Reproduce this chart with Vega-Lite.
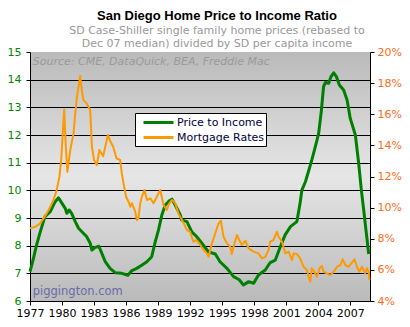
{
  "$schema": "https://vega.github.io/schema/vega-lite/v6.json",
  "width": 340,
  "height": 249,
  "autosize": {"type": "none"},
  "padding": {"left": 30, "top": 52, "right": 40, "bottom": 26},
  "background": "white",
  "config": {"axis": {"labelOverlap": false, "labelBound": false}},
  "view": {
    "stroke": null,
    "fill": {
      "gradient": "linear", "x1": 0, "y1": 0, "x2": 0, "y2": 1,
      "stops": [
        {"offset": 0, "color": "#bababa"},
        {"offset": 0.5, "color": "#e6e6e6"},
        {"offset": 1, "color": "#bababa"}
      ]
    }
  },
  "title": {
    "text": "San Diego Home Price to Income Ratio",
    "subtitle": ["SD Case-Shiller single family home prices (rebased to", "Dec 07 median) divided by SD per capita income"],
    "anchor": "middle",
    "frame": "group",
    "dx": 17,
    "font": "Liberation Sans",
    "fontSize": 13,
    "fontWeight": "bold",
    "color": "black",
    "subtitleFont": "DejaVu Sans",
    "subtitleFontSize": 11,
    "subtitleColor": "#999999",
    "subtitleLineHeight": 13.5,
    "subtitlePadding": 2,
    "offset": -3
  },
  "datasets": {
    "pti": [
      {"year": 1977.0, "ratio": 7.06}, {"year": 1977.3, "ratio": 7.5}, {"year": 1977.6, "ratio": 8.0},
      {"year": 1977.96, "ratio": 8.5}, {"year": 1978.4, "ratio": 9.05}, {"year": 1978.9, "ratio": 9.23},
      {"year": 1979.36, "ratio": 9.59}, {"year": 1979.67, "ratio": 9.73}, {"year": 1980.0, "ratio": 9.53},
      {"year": 1980.3, "ratio": 9.35}, {"year": 1980.45, "ratio": 9.17}, {"year": 1980.67, "ratio": 9.29},
      {"year": 1980.9, "ratio": 9.17}, {"year": 1981.24, "ratio": 8.87}, {"year": 1981.55, "ratio": 8.63},
      {"year": 1982.0, "ratio": 8.45}, {"year": 1982.3, "ratio": 8.33}, {"year": 1982.64, "ratio": 8.09},
      {"year": 1982.8, "ratio": 7.84}, {"year": 1983.1, "ratio": 7.94}, {"year": 1983.45, "ratio": 7.98},
      {"year": 1983.73, "ratio": 7.72}, {"year": 1984.05, "ratio": 7.42}, {"year": 1984.5, "ratio": 7.18},
      {"year": 1985.0, "ratio": 7.02}, {"year": 1985.6, "ratio": 7.0}, {"year": 1986.17, "ratio": 6.93},
      {"year": 1986.55, "ratio": 7.1}, {"year": 1987.0, "ratio": 7.18}, {"year": 1987.5, "ratio": 7.3},
      {"year": 1987.95, "ratio": 7.42}, {"year": 1988.4, "ratio": 7.6}, {"year": 1988.73, "ratio": 8.14},
      {"year": 1989.04, "ratio": 8.57}, {"year": 1989.35, "ratio": 9.11}, {"year": 1989.67, "ratio": 9.47},
      {"year": 1990.05, "ratio": 9.62}, {"year": 1990.3, "ratio": 9.68}, {"year": 1990.6, "ratio": 9.47},
      {"year": 1991.08, "ratio": 9.11}, {"year": 1991.2, "ratio": 8.93}, {"year": 1991.7, "ratio": 8.87},
      {"year": 1992.16, "ratio": 8.5}, {"year": 1992.6, "ratio": 8.33}, {"year": 1993.1, "ratio": 8.09},
      {"year": 1993.7, "ratio": 7.78}, {"year": 1994.36, "ratio": 7.7}, {"year": 1994.8, "ratio": 7.42},
      {"year": 1995.45, "ratio": 7.18}, {"year": 1996.07, "ratio": 6.88}, {"year": 1996.6, "ratio": 6.77},
      {"year": 1997.0, "ratio": 6.58}, {"year": 1997.48, "ratio": 6.7}, {"year": 1997.95, "ratio": 6.64},
      {"year": 1998.4, "ratio": 6.94}, {"year": 1999.04, "ratio": 7.12}, {"year": 1999.5, "ratio": 7.39},
      {"year": 1999.98, "ratio": 7.48}, {"year": 2000.45, "ratio": 7.96}, {"year": 2000.9, "ratio": 8.39},
      {"year": 2001.4, "ratio": 8.69}, {"year": 2002.0, "ratio": 8.87}, {"year": 2002.3, "ratio": 9.53},
      {"year": 2002.47, "ratio": 10.01}, {"year": 2002.8, "ratio": 10.31}, {"year": 2003.1, "ratio": 10.7},
      {"year": 2003.4, "ratio": 11.1}, {"year": 2003.73, "ratio": 11.58}, {"year": 2004.04, "ratio": 12.06},
      {"year": 2004.3, "ratio": 12.9}, {"year": 2004.5, "ratio": 13.75}, {"year": 2004.67, "ratio": 13.9},
      {"year": 2004.98, "ratio": 13.87}, {"year": 2005.2, "ratio": 14.11}, {"year": 2005.45, "ratio": 14.25},
      {"year": 2005.7, "ratio": 14.11}, {"year": 2005.98, "ratio": 13.81}, {"year": 2006.38, "ratio": 13.63},
      {"year": 2006.7, "ratio": 13.27}, {"year": 2007.0, "ratio": 12.6}, {"year": 2007.48, "ratio": 12.0},
      {"year": 2007.79, "ratio": 10.98}, {"year": 2008.04, "ratio": 10.01}, {"year": 2008.26, "ratio": 9.29},
      {"year": 2008.47, "ratio": 8.57}, {"year": 2008.73, "ratio": 7.7}
    ],
    "rates": [
      {"year": 1977.0, "rate": 8.67}, {"year": 1977.5, "rate": 8.77}, {"year": 1977.96, "rate": 8.99},
      {"year": 1978.27, "rate": 9.31}, {"year": 1978.57, "rate": 9.63}, {"year": 1978.9, "rate": 10.06},
      {"year": 1979.2, "rate": 10.49}, {"year": 1979.5, "rate": 11.13}, {"year": 1979.76, "rate": 11.99},
      {"year": 1979.92, "rate": 13.06}, {"year": 1980.05, "rate": 14.56}, {"year": 1980.2, "rate": 16.3},
      {"year": 1980.35, "rate": 14.0}, {"year": 1980.5, "rate": 12.3}, {"year": 1980.77, "rate": 13.7},
      {"year": 1981.08, "rate": 14.77}, {"year": 1981.24, "rate": 16.06}, {"year": 1981.4, "rate": 17.13},
      {"year": 1981.55, "rate": 17.77}, {"year": 1981.7, "rate": 18.46}, {"year": 1981.85, "rate": 17.56},
      {"year": 1982.0, "rate": 16.92}, {"year": 1982.3, "rate": 16.7}, {"year": 1982.64, "rate": 16.27},
      {"year": 1982.8, "rate": 13.91}, {"year": 1983.0, "rate": 13.06}, {"year": 1983.26, "rate": 12.74},
      {"year": 1983.5, "rate": 13.7}, {"year": 1983.85, "rate": 13.3}, {"year": 1984.3, "rate": 14.67},
      {"year": 1984.5, "rate": 14.3}, {"year": 1984.8, "rate": 13.9}, {"year": 1985.1, "rate": 13.17},
      {"year": 1985.45, "rate": 13.06}, {"year": 1985.6, "rate": 12.2}, {"year": 1985.76, "rate": 11.56},
      {"year": 1986.0, "rate": 10.7}, {"year": 1986.23, "rate": 10.38}, {"year": 1986.4, "rate": 10.06},
      {"year": 1986.55, "rate": 10.28}, {"year": 1986.86, "rate": 9.74}, {"year": 1987.0, "rate": 9.2},
      {"year": 1987.15, "rate": 9.31}, {"year": 1987.33, "rate": 10.28}, {"year": 1987.48, "rate": 10.7},
      {"year": 1987.73, "rate": 11.13}, {"year": 1987.95, "rate": 10.49}, {"year": 1988.27, "rate": 10.6},
      {"year": 1988.57, "rate": 10.28}, {"year": 1988.88, "rate": 10.7}, {"year": 1989.2, "rate": 11.13},
      {"year": 1989.51, "rate": 10.17}, {"year": 1989.82, "rate": 9.85}, {"year": 1990.05, "rate": 10.28},
      {"year": 1990.3, "rate": 10.49}, {"year": 1990.6, "rate": 10.28}, {"year": 1990.9, "rate": 9.63},
      {"year": 1991.4, "rate": 8.99}, {"year": 1991.7, "rate": 8.56}, {"year": 1992.0, "rate": 8.45},
      {"year": 1992.3, "rate": 7.81}, {"year": 1992.6, "rate": 7.92}, {"year": 1992.95, "rate": 7.6},
      {"year": 1993.26, "rate": 7.28}, {"year": 1993.57, "rate": 7.06}, {"year": 1993.73, "rate": 6.84},
      {"year": 1994.04, "rate": 7.7}, {"year": 1994.36, "rate": 8.35}, {"year": 1994.67, "rate": 8.99},
      {"year": 1994.88, "rate": 9.16}, {"year": 1995.13, "rate": 8.13}, {"year": 1995.45, "rate": 7.7},
      {"year": 1995.76, "rate": 7.49}, {"year": 1995.9, "rate": 7.02}, {"year": 1996.07, "rate": 7.49},
      {"year": 1996.38, "rate": 8.24}, {"year": 1996.6, "rate": 7.92}, {"year": 1996.85, "rate": 7.6},
      {"year": 1997.17, "rate": 7.87}, {"year": 1997.48, "rate": 7.38}, {"year": 1997.95, "rate": 7.17},
      {"year": 1998.4, "rate": 7.06}, {"year": 1998.73, "rate": 6.74}, {"year": 1999.04, "rate": 6.84},
      {"year": 1999.35, "rate": 7.28}, {"year": 1999.5, "rate": 7.81}, {"year": 1999.82, "rate": 7.92},
      {"year": 2000.13, "rate": 8.45}, {"year": 2000.29, "rate": 8.13}, {"year": 2000.6, "rate": 7.81},
      {"year": 2000.92, "rate": 7.06}, {"year": 2001.23, "rate": 7.17}, {"year": 2001.54, "rate": 6.63},
      {"year": 2001.7, "rate": 7.06}, {"year": 2002.0, "rate": 7.02}, {"year": 2002.3, "rate": 6.74},
      {"year": 2002.63, "rate": 6.2}, {"year": 2002.94, "rate": 5.99}, {"year": 2003.1, "rate": 5.56},
      {"year": 2003.26, "rate": 5.24}, {"year": 2003.4, "rate": 6.1}, {"year": 2003.64, "rate": 5.88},
      {"year": 2003.88, "rate": 5.56}, {"year": 2004.13, "rate": 6.1}, {"year": 2004.35, "rate": 6.25},
      {"year": 2004.5, "rate": 5.88}, {"year": 2004.8, "rate": 5.78}, {"year": 2005.13, "rate": 5.67},
      {"year": 2005.45, "rate": 5.88}, {"year": 2005.76, "rate": 6.2}, {"year": 2006.07, "rate": 6.31},
      {"year": 2006.29, "rate": 6.68}, {"year": 2006.54, "rate": 6.31}, {"year": 2006.85, "rate": 6.2},
      {"year": 2007.16, "rate": 6.46}, {"year": 2007.39, "rate": 6.68}, {"year": 2007.63, "rate": 6.2},
      {"year": 2007.85, "rate": 5.88}, {"year": 2008.1, "rate": 6.2}, {"year": 2008.4, "rate": 5.78},
      {"year": 2008.56, "rate": 6.1}, {"year": 2008.73, "rate": 5.88}, {"year": 2008.8, "rate": 5.35}
    ]
  },
  "layer": [
    {
      "layer": [
        {
          "data": {"name": "pti"},
          "mark": {"type": "line", "strokeWidth": 3, "strokeJoin": "round"},
          "encoding": {
            "x": {
              "field": "year", "type": "quantitative",
              "scale": {"domain": [1977, 2008.85], "nice": false, "zero": false},
              "axis": {
                "title": null, "values": [1977, 1980, 1983, 1986, 1989, 1992, 1995, 1998, 2001, 2004, 2007],
                "format": "d", "labelFont": "DejaVu Sans", "labelFontSize": 11, "labelColor": "black",
                "tickColor": "black", "tickSize": 4, "domainColor": "black", "grid": false,
                "labelPadding": 2, "labelFlush": false, "labelOverlap": false
              }
            },
            "y": {
              "field": "ratio", "type": "quantitative",
              "scale": {"domain": [6, 15], "nice": false, "zero": false},
              "axis": {
                "title": null, "values": [6, 7, 8, 9, 10, 11, 12, 13, 14, 15],
                "labelFont": "DejaVu Sans", "labelFontSize": 11, "labelColor": "#008800",
                "tickColor": "black", "tickSize": 4, "domainColor": "black", "labelPadding": 5,
                "labelOverlap": false,
                "grid": true,
                "gridColor": {"condition": {"test": "datum.value == 15", "value": "transparent"}, "value": "black"},
                "gridOpacity": 1, "gridWidth": 1
              }
            },
            "color": {
              "datum": "Price to Income",
              "scale": {"domain": ["Price to Income", "Mortgage Rates"], "range": ["#008000", "#ff9900"]},
              "legend": {
                "title": null, "orient": "none", "legendX": 105, "legendY": 61,
                "fillColor": "white", "strokeColor": "black", "padding": 2,
                "symbolType": "M-2.5,0H2.5", "symbolSize": 144, "symbolStrokeWidth": 3, "symbolOffset": 14,
                "labelOffset": 11, "labelFont": "DejaVu Sans", "labelFontSize": 11, "labelColor": "#000040",
                "rowPadding": 1
              }
            }
          }
        },
        {
          "data": {"values": [{}]},
          "mark": {"type": "text", "align": "left", "baseline": "alphabetic", "font": "DejaVu Sans", "fontSize": 11, "fontStyle": "italic", "color": "#9a9a9a"},
          "encoding": {
            "x": {
              "datum": 1977.26, "type": "quantitative",
              "axis": {
                "title": null, "values": [1977, 1980, 1983, 1986, 1989, 1992, 1995, 1998, 2001, 2004, 2007],
                "format": "d", "labelFont": "DejaVu Sans", "labelFontSize": 11, "labelColor": "black",
                "tickColor": "black", "tickSize": 4, "domainColor": "black", "grid": false,
                "labelPadding": 2, "labelFlush": false, "labelOverlap": false
              }
            },
            "y": {
              "datum": 14.53, "type": "quantitative",
              "axis": {
                "title": null, "values": [6, 7, 8, 9, 10, 11, 12, 13, 14, 15],
                "labelFont": "DejaVu Sans", "labelFontSize": 11, "labelColor": "#008800",
                "tickColor": "black", "tickSize": 4, "domainColor": "black", "labelPadding": 5,
                "labelOverlap": false,
                "grid": true,
                "gridColor": {"condition": {"test": "datum.value == 15", "value": "transparent"}, "value": "black"},
                "gridOpacity": 1, "gridWidth": 1
              }
            },
            "text": {"value": "Source: CME, DataQuick, BEA, Freddie Mac"}
          }
        },
        {
          "data": {"values": [{}]},
          "mark": {"type": "text", "align": "left", "baseline": "alphabetic", "font": "DejaVu Sans", "fontSize": 11.5, "color": "#6a6aa8"},
          "encoding": {
            "x": {
              "datum": 1977.26, "type": "quantitative",
              "axis": {
                "title": null, "values": [1977, 1980, 1983, 1986, 1989, 1992, 1995, 1998, 2001, 2004, 2007],
                "format": "d", "labelFont": "DejaVu Sans", "labelFontSize": 11, "labelColor": "black",
                "tickColor": "black", "tickSize": 4, "domainColor": "black", "grid": false,
                "labelPadding": 2, "labelFlush": false, "labelOverlap": false
              }
            },
            "y": {
              "datum": 6.22, "type": "quantitative",
              "axis": {
                "title": null, "values": [6, 7, 8, 9, 10, 11, 12, 13, 14, 15],
                "labelFont": "DejaVu Sans", "labelFontSize": 11, "labelColor": "#008800",
                "tickColor": "black", "tickSize": 4, "domainColor": "black", "labelPadding": 5,
                "labelOverlap": false,
                "grid": true,
                "gridColor": {"condition": {"test": "datum.value == 15", "value": "transparent"}, "value": "black"},
                "gridOpacity": 1, "gridWidth": 1
              }
            },
            "text": {"value": "piggington.com"}
          }
        }
      ]
    },
    {
      "data": {"name": "rates"},
      "mark": {"type": "line", "strokeWidth": 2, "strokeJoin": "round"},
      "encoding": {
        "x": {
          "field": "year", "type": "quantitative",
          "axis": {
            "title": null, "values": [1977, 1980, 1983, 1986, 1989, 1992, 1995, 1998, 2001, 2004, 2007],
            "format": "d", "labelFont": "DejaVu Sans", "labelFontSize": 11, "labelColor": "black",
            "tickColor": "black", "tickSize": 4, "domainColor": "black", "grid": false,
            "labelPadding": 2, "labelFlush": false, "labelOverlap": false
          }
        },
        "y": {
          "field": "rate", "type": "quantitative",
          "scale": {"domain": [4, 20], "nice": false, "zero": false},
          "axis": {
            "title": null, "orient": "right", "values": [4, 6, 8, 10, 12, 14, 16, 18, 20],
            "labelExpr": "datum.value + '%'",
            "labelFont": "DejaVu Sans", "labelFontSize": 11, "labelColor": "#ff6a1a",
            "tickColor": "black", "tickSize": 4, "domainColor": "black", "labelPadding": 3, "grid": false,
            "labelOverlap": false
          }
        },
        "color": {"datum": "Mortgage Rates"}
      }
    }
  ],
  "resolve": {"scale": {"y": "independent"}, "axis": {"y": "independent"}}
}
